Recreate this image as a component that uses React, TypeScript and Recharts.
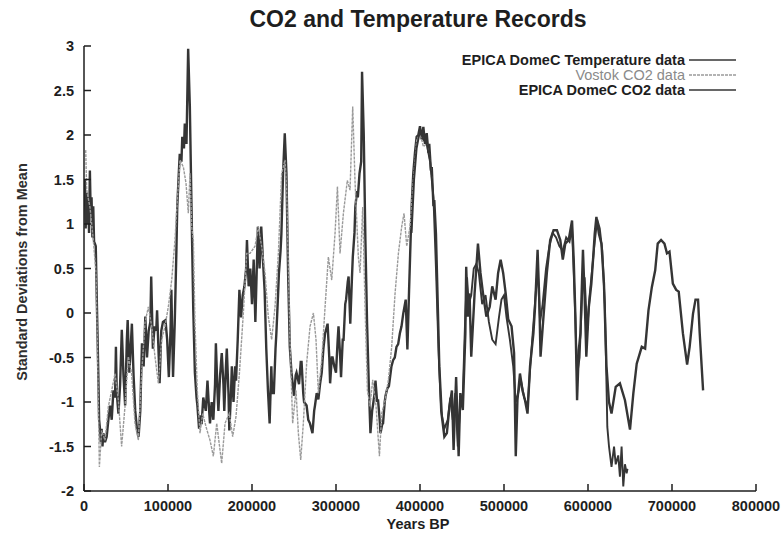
import React from 'react';
import { LineChart, Line, XAxis, YAxis, Legend, Label } from 'recharts';

// years BP in thousands, values in standard deviations from the mean
const tempKa = [
  0, 1, 2, 3, 4, 5, 6, 7, 8, 9, 10, 11, 12, 13, 14, 15, 16, 17, 18, 19, 20, 21, 22, 23, 25, 27, 29, 31, 33, 35,
  37, 38, 39, 41, 43, 45, 47, 49, 51, 52, 54, 55, 57, 59, 61, 63, 65, 67, 69, 71, 73, 75, 77, 79, 80, 82, 84, 86,
  87, 89, 90, 92, 94, 97, 99, 101, 103, 104, 106, 108, 110, 111, 113, 114, 116, 117, 119, 120, 122, 124, 126, 128,
  130, 132, 134, 135, 137, 138, 140, 142, 145, 147, 149, 150, 152, 154, 156, 157, 159, 160, 162, 164, 166, 167, 169,
  170, 172, 173, 175, 176, 178, 180, 181, 183, 185, 187, 189, 191, 193, 194, 196, 198, 200, 202, 204, 207, 209, 211,
  213, 215, 217, 219, 221, 223, 224, 226, 228, 229, 231, 232, 234, 235, 237, 239, 241, 243, 245, 247, 250, 252, 253,
  256, 258, 259, 261, 262, 265, 267, 269, 272, 274, 275, 277, 279, 281, 283, 285, 287, 290, 292, 293, 295, 296, 298,
  300, 302, 303, 305, 306, 308, 309, 311, 312, 314, 315, 317, 319, 320, 322, 323, 325, 326, 328, 330, 331, 333, 335,
  337, 339, 341, 343, 344, 346, 347, 349, 350, 352, 353, 355, 356, 358, 359, 361, 363, 366, 368, 370, 372, 374, 376,
  378, 380, 383, 385, 387, 390, 392, 394, 396, 398, 400, 402, 404, 406, 408, 410, 411, 413, 414, 416, 417, 419, 421,
  423, 426, 429, 432, 435, 438, 440, 443, 446, 448, 451, 454, 455, 457, 459, 461, 465, 469, 472, 475, 479, 483, 486,
  490, 493, 496, 499, 502, 505, 509, 512, 514, 516, 519, 522, 525, 528, 531, 535, 537, 540, 542, 543.5, 547, 551,
  555, 559, 563, 567, 570, 573, 577, 581, 583, 585, 587, 589, 591, 594, 596, 598, 601, 604, 606, 608, 610, 613, 616,
  619, 622, 625, 628, 631, 633, 638, 644, 650, 654, 658, 664, 668, 672, 676, 680, 683, 687, 691, 694, 697, 701, 705,
  708, 713, 718, 721, 725, 728, 731, 733, 737,
];
const tempValues = [
  1.2, 1.5, 0.95, 1.35, 1.0, 1.3, 0.9, 1.6, 1.1, 1.3, 0.85, 1.2, 0.8, 0.78, 0.75, 0.26, -0.2, -0.67, -1.2, -1.3,
  -1.45, -1.3, -1.5, -1.35, -1.45, -1.39, -1.2, -1.04, -1.2, -0.87, -0.95, -0.38, -0.9, -1.13, -0.8, -0.19, -0.7,
  -1.04, -0.3, -0.08, -0.67, -0.5, -0.12, -0.7, -1.1, -1.3, -1.39, -1.1, -0.34, -0.6, -0.04, -0.5, -0.2, -0.1, 0.41,
  -0.4, -0.15, -0.2, 0.03, -0.5, -0.79, -0.2, -0.1, -0.08, -0.3, -0.72, -0.2, 0.26, -0.72, -0.12, 0.7, 1.19, 1.6,
  1.79, 1.7, 1.98, 1.85, 2.13, 1.9, 2.97, 2.32, 1.19, 0.07, -0.67, -0.95, -1.04, -1.3, -1.15, -1.25, -0.95, -1.1,
  -0.76, -1.1, -1.24, -1.0, -1.2, -0.8, -0.34, -0.9, -1.1, -0.7, -0.45, -0.8, -1.1, -0.6, -0.4, -0.9, -1.32, -0.9,
  -0.6, -1.0, -0.6, -0.76, -0.3, 0.26, -0.05, 0.2, 0.3, 0.5, 0.82, 0.3, 0.5, 0.1, 0.6, -0.1, 0.97, 0.5, 0.97, 0.6,
  0.26, -0.4, -0.87, -1.24, -0.6, -0.9, -0.9, -0.4, -0.23, 0.2, 0.44, 0.7, 0.89, 1.57, 2.02, 1.57, 0.44, -0.38,
  -0.67, -0.93, -0.7, -0.67, -0.8, -0.55, -0.55, -0.9, -1.0, -1.04, -1.2, -1.24, -1.35, -1.1, -1.04, -0.9, -0.97,
  -0.8, -0.67, -0.4, -0.23, -0.12, -0.5, -0.79, -0.5, -0.5, -0.6, -0.67, -0.3, -0.15, -0.5, -0.72, -0.3, -0.3, 0.1,
  0.15, 0.35, 0.41, -0.12, 0.4, 0.63, 0.9, 1.19, 1.37, 1.3, 1.57, 1.7, 2.71, 2.02, 0.82, -0.12, -0.79, -1.35, -1.1,
  -1.04, -0.9, -0.76, -1.0, -0.97, -1.2, -1.35, -1.25, -1.24, -1.0, -0.93, -0.85, -0.82, -0.6, -0.53, -0.5, -0.38,
  -0.35, -0.23, -0.15, -0.01, 0.15, -0.41, 0.26, 1.19, 1.57, 1.8, 1.98, 2.0, 2.1, 1.95, 2.09, 1.9, 2.02, 1.8, 1.9,
  1.6, 1.64, 1.2, 1.27, 0.89, 0.15, -0.6, -1.16, -1.39, -1.35, -1.06, -0.87, -1.54, -0.72, -1.61, -0.9, -1.09,
  -0.23, 0.52, -0.04, 0.22, -0.49, 0.22, 0.78, 0.45, 0.22, -0.04, 0.07, 0.3, 0.15, 0.45, 0.6, 0.45, 0.22, -0.07,
  -0.15, -0.45, -1.61, -0.98, -0.68, -0.87, -0.98, -1.13, -0.6, -0.23, 0.07, 0.71, 0.15, -0.49, -0.04, 0.45, 0.82,
  0.93, 0.93, 0.82, 0.6, 0.78, 0.82, 1.04, 0.6, -0.04, -0.98, -0.42, -0.23, 0.71, 0.18, -0.49, 0.07, 0.33, 0.6,
  0.89, 1.08, 0.89, 0.78, 0.33, -0.6, -1.0, -1.13, -0.95, -0.83, -0.79, -0.98, -1.31, -0.9, -0.57, -0.38, -0.4,
  0.03, 0.29, 0.48, 0.78, 0.82, 0.78, 0.67, 0.69, 0.33, 0.26, 0.24, -0.23, -0.58, -0.38, -0.01, 0.15, 0.15, -0.23,
  -0.87,
];

const vostokKa = [
  2, 3.2, 7.1, 11.1, 14.3, 15.9, 18.3, 21, 25, 29, 33, 36.9, 40.9, 44.8, 48.8, 52.8, 56.7, 60.7, 64.7, 68.6, 72.6,
  76.6, 80.6, 84.5, 88.5, 92.5, 96.4, 100.4, 104.4, 108.3, 111.1, 114.3, 118.3, 121.4, 124.2, 126.2, 128.2, 130.2,
  132.1, 134.9, 138.1, 141.3, 145.3, 150, 154, 158, 163.9, 167.9, 173, 177, 181, 185, 189.7, 193.7, 197.7, 203.6,
  207.5, 211.5, 215.5, 219.4, 223.4, 227.4, 231.4, 235.3, 239.3, 241.3, 245.2, 248.4, 252.4, 255.2, 258, 261.1,
  265.1, 269.1, 273.1, 276.2, 279, 283, 287, 290.9, 294.9, 298.9, 301.7, 304.8, 308.8, 313.5, 316.7, 319.9, 322.6,
  326.6, 328.6, 331.8, 334.6, 337.4, 340.5, 343.7, 347.7, 351.7, 354.4, 358.4, 362.4, 366.3, 370.3, 374.3, 378.2,
  381, 384.2, 388.1, 392.1, 396.1, 400.1, 404, 408, 412, 414,
];
const vostokValues = [
  1.83, 1.38, 1.19, 0.82, 0.45, -0.3, -1.73, -1.32, -1.43, -1.05, -0.87, -0.68, -0.98, -1.5, -1.05, -0.49, -0.68,
  -1.24, -1.43, -0.68, -0.11, 0.07, -0.15, -0.49, -0.79, -0.3, -0.15, 0.07, 0.37, 0.82, 1.27, 1.72, 1.64, 1.46,
  1.12, 1.57, 0.97, 0.82, -0.11, -0.87, -1.35, -1.13, -1.28, -1.43, -1.61, -1.24, -1.69, -1.24, -1.13, -1.39, -1.16,
  -0.68, 0.0, 0.67, 0.67, 0.75, 0.97, 0.75, 0.45, -0.04, -0.3, 0.07, 0.67, 1.57, 1.72, 1.38, -0.3, -1.24, -0.87,
  -1.35, -1.65, -1.24, -0.56, -0.15, 0.0, -0.3, -0.9, -0.53, 0.07, 0.63, 0.37, 0.9, 1.42, 0.67, 1.12, 1.49, 1.38,
  2.32, 1.49, 0.63, 0.45, 1.19, 0.07, -0.87, -1.05, -0.75, -1.05, -1.61, -1.13, -0.98, -0.75, -0.38, 0.22, 0.67,
  0.97, 1.12, 0.75, 0.97, 1.49, 1.94, 2.02, 1.87, 1.9, 1.7, 1.5,
];

const epicaCo2Ka = [
  390, 393, 396, 400, 404, 408, 412, 416, 419, 422, 425, 429, 433, 436, 439, 442, 445, 448, 451, 454, 456, 458, 461,
  464, 467, 470, 474, 478, 482, 486, 490, 494, 497, 500, 503, 507, 511, 514, 517, 520, 524, 528, 532, 536, 540, 543,
  546, 550, 554, 558, 562, 566, 570, 574, 578, 581, 584, 587, 590, 593, 596, 599, 602, 605, 608, 611, 614, 617, 620,
  622, 623, 625, 628, 631, 633, 636, 638, 640, 642, 644, 646, 647,
];
const epicaCo2Values = [
  0.9, 1.5, 1.85, 2.05, 1.95, 1.9, 1.7, 1.3, 0.5, -0.4, -1.1, -1.3, -1.2, -0.95, -1.2, -0.9, -1.5, -1.0, -0.9, 0.0,
  0.4, 0.1, 0.2, 0.5, 0.55, 0.45, 0.1, 0.2, -0.1, -0.3, -0.35, -0.05, 0.15, 0.2, -0.05, -0.3, -0.6, -1.0, -0.9,
  -0.75, -0.95, -1.05, -0.5, 0.0, 0.5, -0.1, 0.1, 0.5, 0.75, 0.9, 0.85, 0.75, 0.7, 0.85, 0.8, 0.95, 0.2, -0.7,
  -0.5, 0.2, 0.4, -0.2, 0.2, 0.5, 0.8, 1.05, 0.95, 0.7, 0.1, -0.8, -1.28, -1.5, -1.73, -1.5, -1.7, -1.6, -1.84,
  -1.5, -1.95, -1.7, -1.8, -1.75,
];

const xTicks = [0, 100000, 200000, 300000, 400000, 500000, 600000, 700000, 800000];
const yTicks = [-2, -1.5, -1, -0.5, 0, 0.5, 1, 1.5, 2, 2.5, 3];

const toPoints = (ka: number[], vals: number[]) => ka.map((k, i) => ({ x: k * 1000, y: vals[i] }));
const tempData = toPoints(tempKa, tempValues);
const vostokData = toPoints(vostokKa, vostokValues);
const epicaCo2Data = toPoints(epicaCo2Ka, epicaCo2Values);

const FONT = '"Liberation Sans", Arial, sans-serif';
const INK = '#1e1e1e';
const DARK = '#353535';
const GREY = '#9a9a9a';
const FS = 14.5;

const BottomTick = (p: any) => (
  <g>
    <line x1={p.x} x2={p.x} y1={p.y} y2={p.y - 7} stroke={INK} strokeWidth={1.5} />
    <text x={p.x} y={p.y + 20} textAnchor="middle" fontSize={FS} fontWeight="bold" fill={INK} fontFamily={FONT}>
      {p.payload.value}
    </text>
  </g>
);

const TopTick = (p: any) => (
  <line x1={p.x} x2={p.x} y1={p.y} y2={p.y + 7} stroke={INK} strokeWidth={1.5} />
);

const LeftTick = (p: any) => (
  <g>
    <line x1={p.x} x2={p.x + 7} y1={p.y} y2={p.y} stroke={INK} strokeWidth={1.5} />
    <text x={p.x - 10} y={p.y + 5} textAnchor="end" fontSize={FS} fontWeight="bold" fill={INK} fontFamily={FONT}>
      {p.payload.value}
    </text>
  </g>
);

const RightTick = (p: any) => (
  <line x1={p.x} x2={p.x - 7} y1={p.y} y2={p.y} stroke={INK} strokeWidth={1.5} />
);

const legendRows = [
  { name: 'EPICA DomeC Temperature data', color: DARK, textColor: INK, bold: true, dash: undefined },
  { name: 'Vostok CO2 data', color: GREY, textColor: '#8a8a8a', bold: false, dash: '3 1' },
  { name: 'EPICA DomeC CO2 data', color: DARK, textColor: INK, bold: true, dash: undefined },
];

const LegendBox = () => (
  <div style={{ width: 736, fontFamily: FONT, fontSize: FS }}>
    {legendRows.map((r) => (
      <div key={r.name} style={{ display: 'flex', justifyContent: 'flex-end', alignItems: 'center', height: 15 }}>
        <span style={{ color: r.textColor, fontWeight: r.bold ? 'bold' : 'normal', marginRight: 4 }}>{r.name}</span>
        <svg width={47} height={6}>
          <line x1={0} x2={47} y1={3} y2={3} stroke={r.color} strokeWidth={1.5} strokeDasharray={r.dash} />
        </svg>
      </div>
    ))}
  </div>
);

export default function App() {
  return (
    <div style={{ position: 'absolute', left: 0, top: 0, width: 782, height: 535, background: '#fff' }}>
      <div
        style={{
          position: 'absolute',
          left: 0,
          top: 5,
          width: 836,
          textAlign: 'center',
          fontFamily: FONT,
          fontWeight: 'bold',
          fontSize: 23,
          lineHeight: '28px',
          color: INK,
        }}
      >
        CO2 and Temperature Records
      </div>
      <LineChart width={782} height={535} margin={{ top: 46, right: 26, bottom: 0, left: 0 }}>
        <XAxis
          xAxisId="b"
          type="number"
          dataKey="x"
          domain={[0, 800000]}
          ticks={xTicks}
          interval={0}
          height={44}
          tickLine={false}
          tickSize={0}
          tickMargin={0}
          tick={<BottomTick />}
          axisLine={{ stroke: INK, strokeWidth: 1.5 }}
          allowDataOverflow
        >
          <Label
            content={() => (
              <text x={418} y={529} textAnchor="middle" fontSize={FS} fontWeight="bold" fill={INK} fontFamily={FONT}>
                Years BP
              </text>
            )}
          />
        </XAxis>
        <XAxis
          xAxisId="t"
          orientation="top"
          type="number"
          dataKey="x"
          domain={[0, 800000]}
          ticks={xTicks}
          interval={0}
          height={0}
          tickLine={false}
          tickSize={0}
          tickMargin={0}
          tick={<TopTick />}
          axisLine={{ stroke: INK, strokeWidth: 1.5 }}
          allowDataOverflow
        />
        <YAxis
          yAxisId="l"
          type="number"
          domain={[-2, 3]}
          ticks={yTicks}
          interval={0}
          width={84}
          tickLine={false}
          tickSize={0}
          tickMargin={0}
          tick={<LeftTick />}
          axisLine={{ stroke: INK, strokeWidth: 1.5 }}
          allowDataOverflow
        >
          <Label
            content={() => (
              <text
                x={27}
                y={272}
                transform="rotate(-90 27 272)"
                textAnchor="middle"
                fontSize={FS}
                fontWeight="bold"
                fill="#2e2e2e"
                fontFamily={FONT}
              >
                Standard Deviations from Mean
              </text>
            )}
          />
        </YAxis>
        <YAxis
          yAxisId="r"
          orientation="right"
          type="number"
          domain={[-2, 3]}
          ticks={yTicks}
          interval={0}
          width={0}
          tickLine={false}
          tickSize={0}
          tickMargin={0}
          tick={<RightTick />}
          axisLine={{ stroke: INK, strokeWidth: 1.5 }}
          allowDataOverflow
        />
        <Legend
          layout="vertical"
          align="center"
          verticalAlign="middle"
          wrapperStyle={{ position: 'absolute', top: 52, left: 0, width: 740 }}
          content={() => <LegendBox />}
        />
        <Line
          xAxisId="b"
          yAxisId="l"
          data={tempData}
          dataKey="y"
          name="EPICA DomeC Temperature data"
          type="linear"
          stroke={DARK}
          strokeWidth={2.4}
          dot={false}
          isAnimationActive={false}
        />
        <Line
          xAxisId="b"
          yAxisId="l"
          data={vostokData}
          dataKey="y"
          name="Vostok CO2 data"
          type="linear"
          stroke={GREY}
          strokeWidth={1.4}
          strokeDasharray="3 1"
          dot={false}
          isAnimationActive={false}
        />
        <Line
          xAxisId="b"
          yAxisId="l"
          data={epicaCo2Data}
          dataKey="y"
          name="EPICA DomeC CO2 data"
          type="linear"
          stroke={DARK}
          strokeWidth={1.9}
          dot={false}
          isAnimationActive={false}
        />
      </LineChart>
    </div>
  );
}
